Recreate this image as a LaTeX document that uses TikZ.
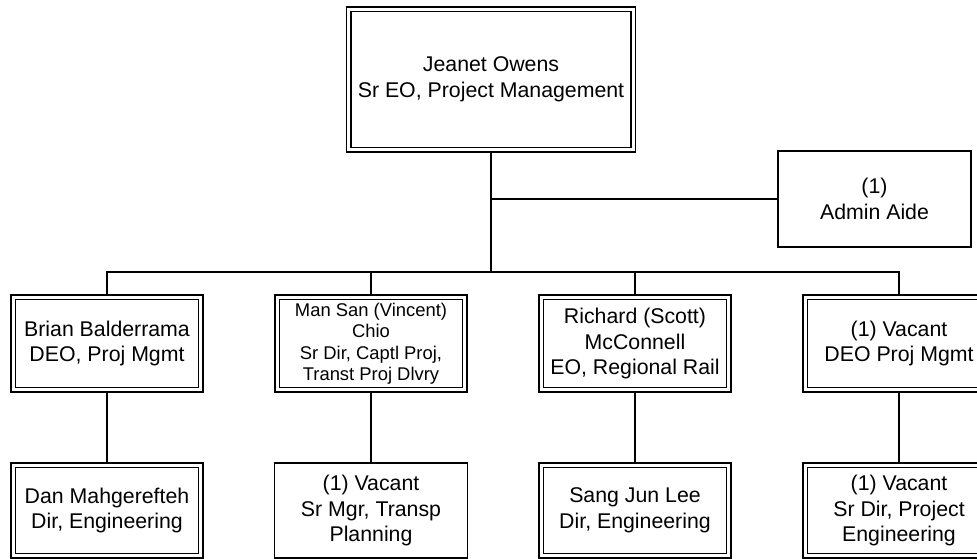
\documentclass[tikz,border=0pt]{standalone}
\usepackage{fontspec}
\setmainfont{Liberation Sans}
\begin{document}
\begin{tikzpicture}[x=1pt,y=-1pt,
  box/.style={draw, line width=1.8pt, fill=white, inner sep=0pt, align=center,
    font=\fontsize{21.3}{25.5}\selectfont},
  dbox/.style={box, line width=1.4pt, double, double distance=3pt, outer sep=2.7pt},
  smalltext/.style={font=\fontsize{18.4}{21.5}\selectfont},
  link/.style={line width=1.8pt}]
\useasboundingbox (0,0) rectangle (977,559);

% top
\node[dbox, minimum width=284.5pt, minimum height=140.5pt] (jeanet) at (491,79.5)
  {Jeanet Owens\\Sr EO, Project Management};
\node[box, minimum width=193pt, minimum height=96pt] (admin) at (874.5,199)
  {(1)\\Admin Aide};

% level 2
\node[dbox, minimum width=187.5pt, minimum height=92.5pt] (brian) at (107,343.5)
  {Brian Balderrama\\DEO, Proj Mgmt};
\node[dbox, smalltext, minimum width=187.5pt, minimum height=92.5pt] (mansan) at (371,343.5)
  {Man San (Vincent)\\Chio\\Sr Dir, Captl Proj,\\Transt Proj Dlvry};
\node[dbox, minimum width=187.5pt, minimum height=92.5pt] (richard) at (635,343.5)
  {Richard (Scott)\\McConnell\\EO, Regional Rail};
\node[dbox, minimum width=187.5pt, minimum height=92.5pt] (vacdeo) at (899,343.5)
  {(1) Vacant\\DEO Proj Mgmt};

% level 3
\node[dbox, minimum width=187.5pt, minimum height=90.5pt] (dan) at (107,510.5)
  {Dan Mahgerefteh\\Dir, Engineering};
\node[box, minimum width=193pt, minimum height=95pt] (vacmgr) at (371,510.5)
  {(1) Vacant\\Sr Mgr, Transp\\Planning};
\node[dbox, minimum width=187.5pt, minimum height=90.5pt] (sang) at (635,510.5)
  {Sang Jun Lee\\Dir, Engineering};
\node[dbox, minimum width=187.5pt, minimum height=90.5pt] (vacdir) at (899,510.5)
  {(1) Vacant\\Sr Dir, Project\\Engineering};

% connectors
\coordinate (bus) at (491,272);
\draw[link] (jeanet.south) -- (bus);
\draw[link] (jeanet.south |- admin.west) -- (admin.west);
\draw[link] (brian.north) |- (vacdeo.north |- bus) -- (vacdeo.north);
\draw[link] (mansan.north) -- (mansan.north |- bus);
\draw[link] (richard.north) -- (richard.north |- bus);
\draw[link] (brian.south) -- (dan.north);
\draw[link] (mansan.south) -- (vacmgr.north);
\draw[link] (richard.south) -- (sang.north);
\draw[link] (vacdeo.south) -- (vacdir.north);
\end{tikzpicture}
\end{document}
